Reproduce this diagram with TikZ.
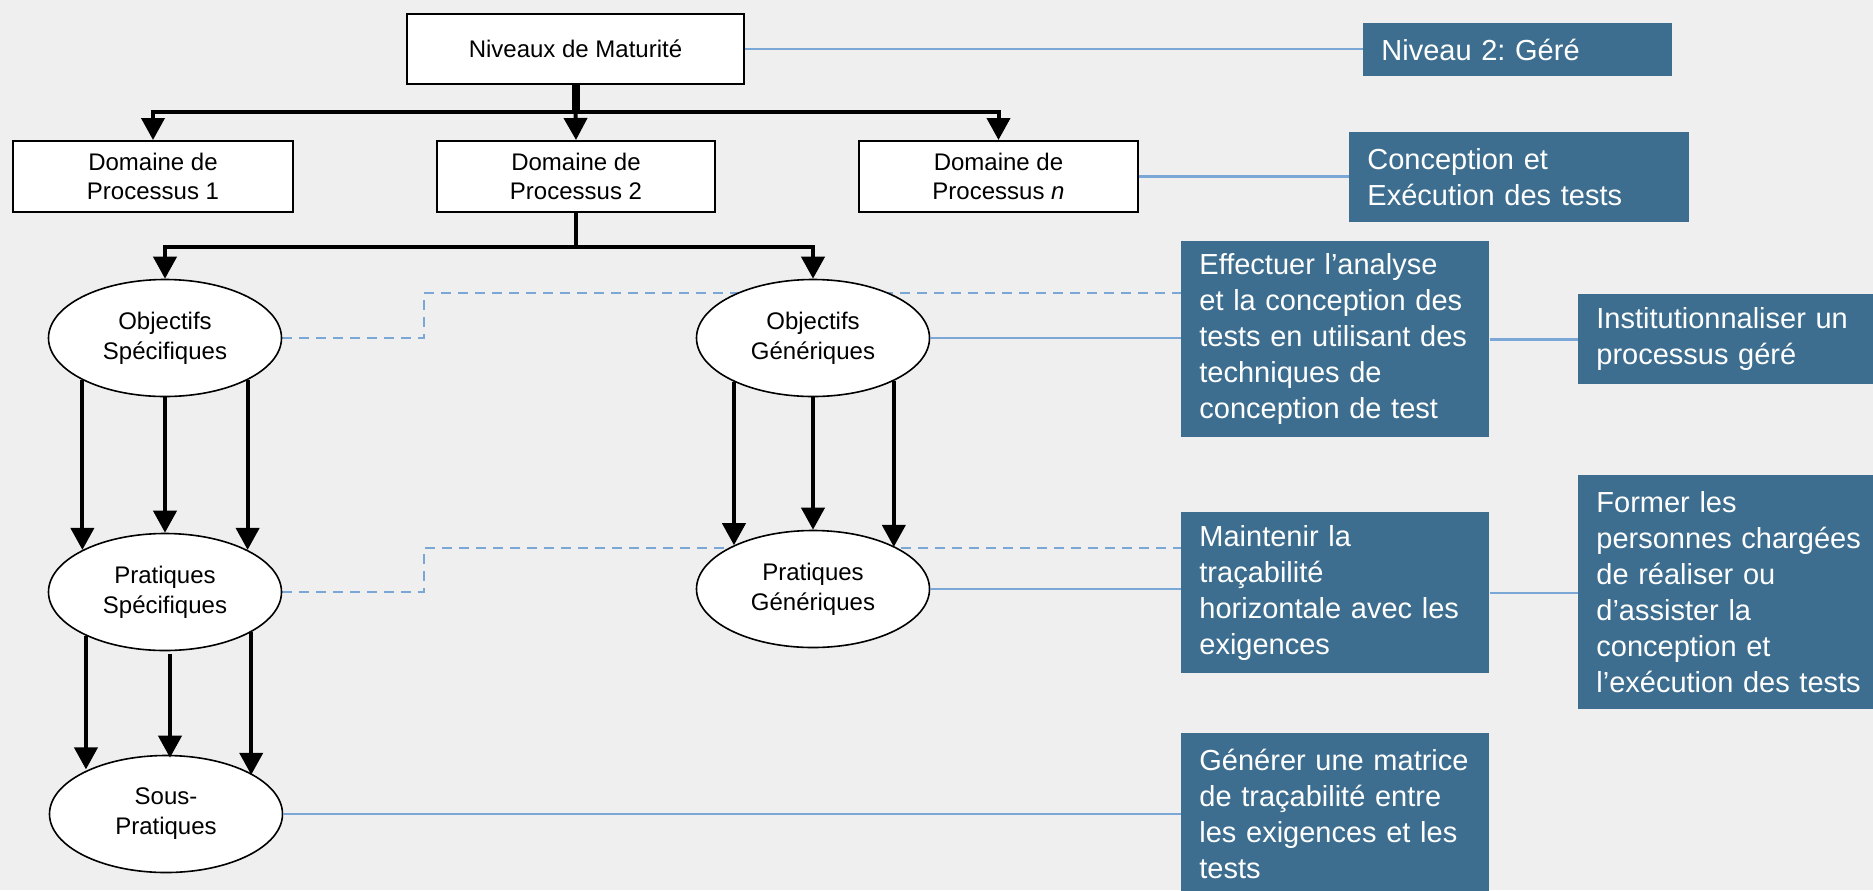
\documentclass[tikz,border=0pt]{standalone}
\usepackage{fontspec}
\setmainfont{Liberation Sans}
\frenchspacing
\usetikzlibrary{shapes.geometric, arrows.meta, backgrounds, calc}
\definecolor{infoblue}{HTML}{3D6E8F}
\definecolor{linkblue}{HTML}{7BA7D7}
\definecolor{paper}{HTML}{EFEFEF}

\tikzset{
  matbox/.style={draw=black, line width=1pt, fill=white, align=center, inner sep=0pt,
    font=\fontsize{12}{14.7}\selectfont},
  oval/.style={ellipse, draw=black, line width=0.8pt, fill=white, align=center, inner sep=0pt,
    minimum width=116.5pt, minimum height=58.5pt, font=\fontsize{12}{15}\selectfont},
  infobox/.style={fill=infoblue, text=white, align=left, anchor=north west,
    inner xsep=9pt, inner ysep=0pt, font=\fontsize{14.5}{18}\selectfont},
  tree/.style={line width=2pt, -{Triangle[width=11.5pt,length=11pt]}},
  link/.style={draw=linkblue, line width=1.2pt},
  dashlink/.style={link, dash pattern=on 5pt off 3.5pt}
}

\begin{document}
\begin{tikzpicture}[x=0.5pt, y=-0.5pt]
        \useasboundingbox (0,0) rectangle (1873,890);

        % Model tree
        \node[matbox, minimum width=168.5pt, minimum height=35pt] (niv) at (575.5,49) {Niveaux de Maturité};
        \node[matbox, minimum width=140pt, minimum height=35.5pt] (d1) at (153,176.5) {Domaine de\\Processus 1};
        \node[matbox, minimum width=139pt, minimum height=35.5pt] (d2) at (576,176.5) {Domaine de\\Processus 2};
        \node[matbox, minimum width=139.5pt, minimum height=35.5pt] (dn) at (998.5,176.5) {Domaine de\\Processus \textit{n}};

        \node[oval] (os) at (165,338) {Objectifs\\Spécifiques};
        \node[oval] (og) at (813,338) {Objectifs\\Génériques};
        \node[oval] (ps) at (165,592) {Pratiques\\Spécifiques};
        \node[oval] (pg) at (813,589) {Pratiques\\Génériques};
        \node[oval] (sp) at (166,814) {Sous-\\Pratiques};

        % Example boxes
        \node[infobox, minimum width=154.5pt, minimum height=26.5pt, text width=136.5pt] (n2) at (1363,23) {Niveau 2: Géré};
        \node[infobox, minimum width=170pt, minimum height=45pt, text width=152pt] (conc) at (1349,132) {Conception et\\Exécution des tests};
        \node[infobox, minimum width=154pt, minimum height=98pt, text width=136pt] (eff) at (1181,241) {Effectuer l’analyse\\et la conception des\\tests en utilisant des\\techniques de\\conception de test};
        \node[infobox, minimum width=160pt, minimum height=45pt, text width=142pt] (inst) at (1578,294) {Institutionnaliser un\\processus géré};
        \node[infobox, minimum width=154pt, minimum height=80.5pt, text width=136pt] (maint) at (1181,512) {Maintenir la\\traçabilité\\horizontale avec les\\exigences};
        \node[infobox, minimum width=160pt, minimum height=117pt, text width=142pt] (former) at (1578,475) {Former les\\personnes chargées\\de réaliser ou\\d’assister la\\conception et\\l’exécution des tests};
        \node[infobox, minimum width=154pt, minimum height=80.5pt, text width=136pt] (gen) at (1181,733) {Générer une matrice\\de traçabilité entre\\les exigences et les\\tests};

        % Background and dashed links
        \begin{pgfonlayer}{background}
          \fill[paper] (0,0) rectangle (1873,890);
          \coordinate (k1) at (424,293);
          \coordinate (k2) at (424,548);
          \draw[dashlink] (os.east) -| (k1) -- (k1 -| eff.west);
          \draw[dashlink] (ps.east) -| (k2) -- (k2 -| maint.west);
        \end{pgfonlayer}

        % Tree arrows
        \coordinate (j1) at (575.5,112);
        \coordinate (j2) at (576,247);
        \draw[line width=4pt] (niv.south) -- (j1);
        \draw[tree] (j1) -| (d1.north);
        \draw[tree] (j1) -- (d2.north);
        \draw[tree] (j1) -| (dn.north);
        \draw[line width=2pt] (d2.south) -- (j2);
        \draw[tree] (j2) -| (os.north);
        \draw[tree] (j2) -| (og.north);

        \draw[tree] (os.207) -- (os.207 |- ps.153);
        \draw[tree] (os.south) -- (ps.north);
        \draw[tree] (os.333) -- (os.333 |- ps.27);
        \draw[tree] (og.209) -- (og.209 |- pg.151);
        \draw[tree] (og.south) -- (og.south |- pg.north);
        \draw[tree] (og.332.6) -- (og.332.6 |- pg.27.4);
        \draw[tree] (ps.209.7) -- (ps.209.7 |- sp.150.6);
        \draw[tree] ([shift={(5,3)}]ps.south) -- ([shift={(5,3)}]ps.south |- sp.north);
        \draw[tree] (ps.335.9) -- (ps.335.9 |- sp.24.3);

        % Solid links
        \draw[link] (niv.east) -- (niv.east -| n2.west);
        \draw[link] (dn.east) -- (dn.east -| conc.west);
        \draw[link] (og.east) -- (og.east -| eff.west);
        \draw[link] (eff.east) -- (eff.east -| inst.west);
        \draw[link] (pg.east) -- (pg.east -| maint.west);
        \draw[link] (maint.east) -- (maint.east -| former.west);
        \draw[link] (sp.east) -- (sp.east -| gen.west);

      \end{tikzpicture}
\end{document}
